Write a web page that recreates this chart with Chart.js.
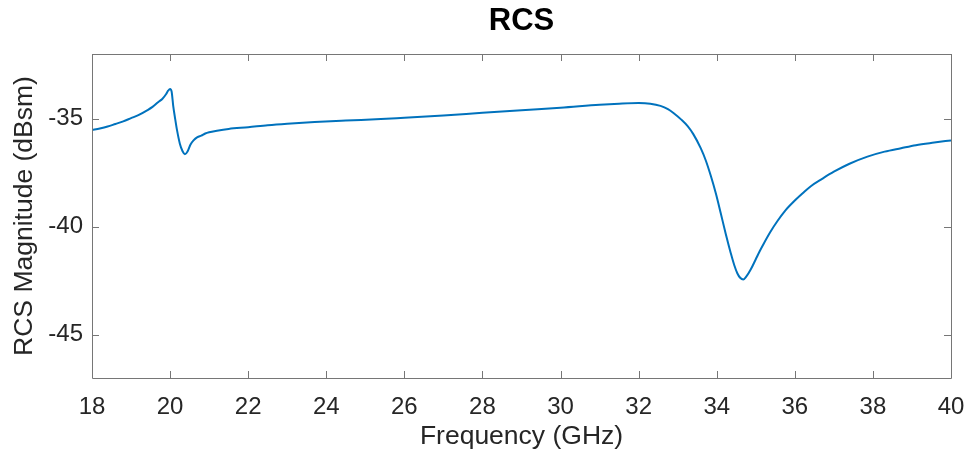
<!DOCTYPE html>
<html>
<head>
<meta charset="utf-8">
<script src="https://cdn.jsdelivr.net/npm/chart.js@4.4.1/dist/chart.umd.min.js"></script>
<style>
  html, body { margin: 0; padding: 0; background: #ffffff; }
  #wrap { width: 973px; height: 462px; }
</style>
</head>
<body>
<div id="wrap"><canvas id="c" width="973" height="462"></canvas></div>
<script>
const frequencies = [
  18.0, 18.2, 18.4, 18.6, 18.8, 19.0, 19.2, 19.4, 19.55, 19.7, 19.8, 19.9, 19.95, 20.0,
  20.04, 20.08, 20.13, 20.18, 20.25, 20.32, 20.38, 20.45, 20.52, 20.6, 20.7, 20.8, 20.9,
  21.0, 21.2, 21.5, 22.0, 22.5, 23.0, 23.7, 24.5, 25.4, 26.0, 27.0, 28.0, 29.0, 30.0,
  31.0, 31.5, 32.0, 32.3, 32.56, 32.75, 32.9, 33.1, 33.25, 33.4, 33.59, 33.72, 33.85,
  33.98, 34.1, 34.23, 34.36, 34.45, 34.53, 34.6, 34.68, 34.76, 34.87, 35.0, 35.1, 35.21,
  35.38, 35.56, 35.75, 35.98, 36.2, 36.41, 36.7, 37.0, 37.4, 37.86, 38.3, 38.72, 39.1,
  39.57, 40.0
];
const rcsValues = [
  -35.52, -35.45, -35.36, -35.24, -35.12, -34.97, -34.82, -34.62, -34.45, -34.22, -34.08, -33.85, -33.70, -33.62,
  -33.75, -34.40, -35.00, -35.55, -36.15, -36.50, -36.64, -36.50, -36.20, -36.00, -35.85, -35.78, -35.68,
  -35.62, -35.55, -35.47, -35.39, -35.30, -35.23, -35.15, -35.08, -35.01, -34.95, -34.85, -34.72, -34.60, -34.49,
  -34.35, -34.30, -34.27, -34.30, -34.40, -34.55, -34.74, -35.05, -35.33, -35.71, -36.36, -36.93, -37.65,
  -38.47, -39.35, -40.32, -41.22, -41.78, -42.16, -42.36, -42.44, -42.30, -41.98, -41.50, -41.13, -40.76,
  -40.22, -39.72, -39.26, -38.82, -38.45, -38.12, -37.78, -37.45, -37.08, -36.75, -36.52, -36.36, -36.22,
  -36.10, -36.00
];
const xTicks = [18, 20, 22, 24, 26, 28, 30, 32, 34, 36, 38, 40];
const yTicks = [-45, -40, -35];

const AXIS_COLOR = '#767676';
const TEXT_COLOR = '#262626';
const FONT = 'Liberation Sans, Arial, sans-serif';

const boxAndTicks = {
  id: 'boxAndTicks',
  afterDatasetsDraw(chart) {
    const {ctx, chartArea: a, scales: {x, y}} = chart;
    const L = 7;
    ctx.save();
    ctx.strokeStyle = AXIS_COLOR;
    ctx.lineWidth = 1;
    ctx.beginPath();
    ctx.rect(Math.round(a.left) + 0.5, Math.round(a.top) + 0.5,
             Math.round(a.right - a.left), Math.round(a.bottom - a.top));
    for (const t of xTicks) {
      const px = Math.round(x.getPixelForValue(t)) + 0.5;
      ctx.moveTo(px, a.bottom); ctx.lineTo(px, a.bottom - L);
      ctx.moveTo(px, a.top); ctx.lineTo(px, a.top + L);
    }
    for (const t of yTicks) {
      const py = Math.round(y.getPixelForValue(t)) + 0.5;
      ctx.moveTo(a.left, py); ctx.lineTo(a.left + L, py);
      ctx.moveTo(a.right, py); ctx.lineTo(a.right - L, py);
    }
    ctx.stroke();
    ctx.restore();
  }
};

new Chart(document.getElementById('c'), {
  type: 'line',
  data: {
    datasets: [{
      data: frequencies.map((f, i) => ({x: f, y: rcsValues[i]})),
      borderColor: '#0072BD',
      borderWidth: 2,
      pointRadius: 0,
      fill: false,
      cubicInterpolationMode: 'monotone'
    }]
  },
  options: {
    responsive: false,
    animation: false,
    layout: { padding: { left: 0, right: 22, top: 0, bottom: 0 } },
    plugins: {
      legend: { display: false },
      tooltip: { enabled: false },
      title: {
        display: true,
        text: 'RCS',
        fullSize: false,
        color: '#000000',
        font: { family: FONT, size: 31, weight: 'bold', lineHeight: 1.2 },
        padding: { top: 3, bottom: 13.8 }
      }
    },
    scales: {
      x: {
        type: 'linear',
        min: 18, max: 40,
        afterFit(s) { s.height = 84; s.paddingLeft = 0; s.paddingRight = 0; },
        afterBuildTicks(s) { s.ticks = xTicks.map(v => ({value: v})); },
        grid: { display: false, drawTicks: false },
        border: { display: false },
        ticks: {
          color: TEXT_COLOR,
          padding: 15,
          maxRotation: 0,
          autoSkip: false,
          font: { family: FONT, size: 24 }
        },
        title: {
          display: true,
          text: 'Frequency (GHz)',
          color: TEXT_COLOR,
          padding: { top: 0, bottom: 9 },
          font: { family: FONT, size: 26.5, lineHeight: 1.2 }
        }
      },
      y: {
        type: 'linear',
        min: -47, max: -32,
        afterFit(s) { s.width = 92; s.paddingTop = 0; s.paddingBottom = 0; },
        afterBuildTicks(s) { s.ticks = yTicks.map(v => ({value: v})); },
        grid: { display: false, drawTicks: false },
        border: { display: false },
        ticks: {
          color: TEXT_COLOR,
          padding: 9,
          autoSkip: false,
          font: { family: FONT, size: 24 }
        },
        title: {
          display: true,
          text: 'RCS Magnitude (dBsm)',
          color: TEXT_COLOR,
          padding: { top: 9, bottom: 0 },
          font: { family: FONT, size: 26.5, lineHeight: 1.2 }
        }
      }
    }
  },
  plugins: [boxAndTicks]
});
</script>
</body>
</html>
